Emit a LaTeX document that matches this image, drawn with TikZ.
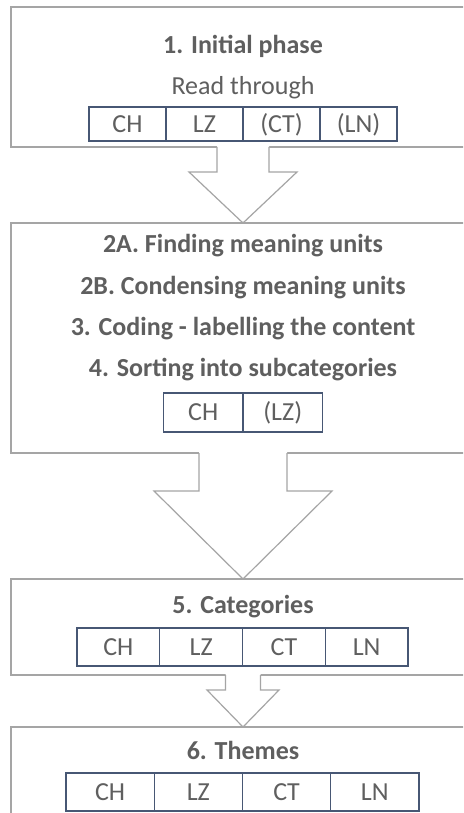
\documentclass[tikz,border=0pt]{standalone}
\usepackage{fontspec}
\setmainfont{Carlito}
\usetikzlibrary{positioning,calc}
\definecolor{txtgray}{HTML}{5F5F5F}
\definecolor{framegray}{HTML}{A5A5A5}
\definecolor{cellline}{HTML}{475774}

\tikzset{
  stagebox/.style={draw=framegray, line width=1.2pt, fill=white, anchor=north west,
    minimum width=464pt, inner sep=0pt, outer sep=0pt},
  heading/.style={text=txtgray, font=\fontsize{26}{31}\selectfont\bfseries,
    inner sep=0pt, text height=16.7pt, text depth=0pt},
  plain/.style={text=txtgray, font=\fontsize{26}{31}\selectfont,
    inner sep=0pt, text height=16.7pt, text depth=0pt},
  cell/.style={draw=cellline, line width=1.3pt, text=txtgray,
    font=\fontsize{26}{31}\selectfont, inner sep=0pt, outer sep=0pt,
    text height=16.7pt, text depth=0pt},
  flowline/.style={draw=framegray, line width=1.2pt, line join=miter},
}

% block arrow from the bottom of one stage to the top of the next
% #1 source, #2 target, #3 stem half width, #4 head half width, #5 stem length
\newcommand\stagearrow[5]{%
  \path (#1.south) coordinate (sa) (#2.north) coordinate (sz);
  \fill[white] ($(sa)+(-#3,-1)$) -- ($(sa)+(-#3,#5)$) -- ($(sa)+(-#4,#5)$) -- (sz)
     -- ($(sa)+(#4,#5)$) -- ($(sa)+(#3,#5)$) -- ($(sa)+(#3,-1)$) -- cycle;
  \draw[flowline] ($(sa)+(-#3,0)$) -- ($(sa)+(-#3,#5)$) -- ($(sa)+(-#4,#5)$) -- (sz)
     -- ($(sa)+(#4,#5)$) -- ($(sa)+(#3,#5)$) -- ($(sa)+(#3,0)$);
}

\begin{document}
\begin{tikzpicture}[x=1pt, y=-1pt]
\useasboundingbox (0,0) rectangle (463,813);
\clip (0,0) rectangle (463,813);
\fill[white] (0,0) rectangle (463,813);

% stage frames
\node[stagebox, minimum height=140pt] (b1) at (11,7) {};
\node[stagebox, minimum height=230pt] (b2) at (11,223) {};
\node[stagebox, minimum height=96pt]  (b3) at (11,579) {};
\node[stagebox, minimum height=120pt] (b4) at (11,727) {};

% arrows between stages
\stagearrow{b1}{b2}{26}{54}{25}
\stagearrow{b2}{b3}{44}{89}{38}
\stagearrow{b3}{b4}{17.5}{36}{15}

% stage 1
\node[heading] (h1) at (243,45) {1. Initial phase};
\node[plain] (r1) at (243,86.5) {Read through};
\node[cell, minimum width=77pt, minimum height=34pt] (c11) at (127.5,124) {CH};
\node[cell, minimum width=77pt, minimum height=34pt, right=0pt of c11] (c12) {LZ};
\node[cell, minimum width=77pt, minimum height=34pt, right=0pt of c12] (c13) {(CT)};
\node[cell, minimum width=77pt, minimum height=34pt, right=0pt of c13] (c14) {(LN)};

% stages 2-4
\node[heading] (h2a) at (243,244.5) {2A. Finding meaning units};
\node[heading] (h2b) at (243,286) {2B. Condensing meaning units};
\node[heading] (h3)  at (243,327) {3. Coding - labelling the content};
\node[heading] (h4)  at (243,368.5) {4. Sorting into subcategories};
\node[cell, minimum width=79.5pt, minimum height=39pt] (c21) at (203.25,412.5) {CH};
\node[cell, minimum width=79.5pt, minimum height=39pt, right=0pt of c21] (c22) {(LZ)};

% stage 5
\node[heading] (h5) at (243,605) {5. Categories};
\node[cell, minimum width=82.75pt, minimum height=38pt] (c31) at (118.4,647) {CH};
\node[cell, minimum width=82.75pt, minimum height=38pt, right=0pt of c31] (c32) {LZ};
\node[cell, minimum width=82.75pt, minimum height=38pt, right=0pt of c32] (c33) {CT};
\node[cell, minimum width=82.75pt, minimum height=38pt, right=0pt of c33] (c34) {LN};

% stage 6
\node[heading] (h6) at (243,751) {6. Themes};
\node[cell, minimum width=88.25pt, minimum height=38pt] (c41) at (110.1,792) {CH};
\node[cell, minimum width=88.25pt, minimum height=38pt, right=0pt of c41] (c42) {LZ};
\node[cell, minimum width=88.25pt, minimum height=38pt, right=0pt of c42] (c43) {CT};
\node[cell, minimum width=88.25pt, minimum height=38pt, right=0pt of c43] (c44) {LN};
\end{tikzpicture}
\end{document}
